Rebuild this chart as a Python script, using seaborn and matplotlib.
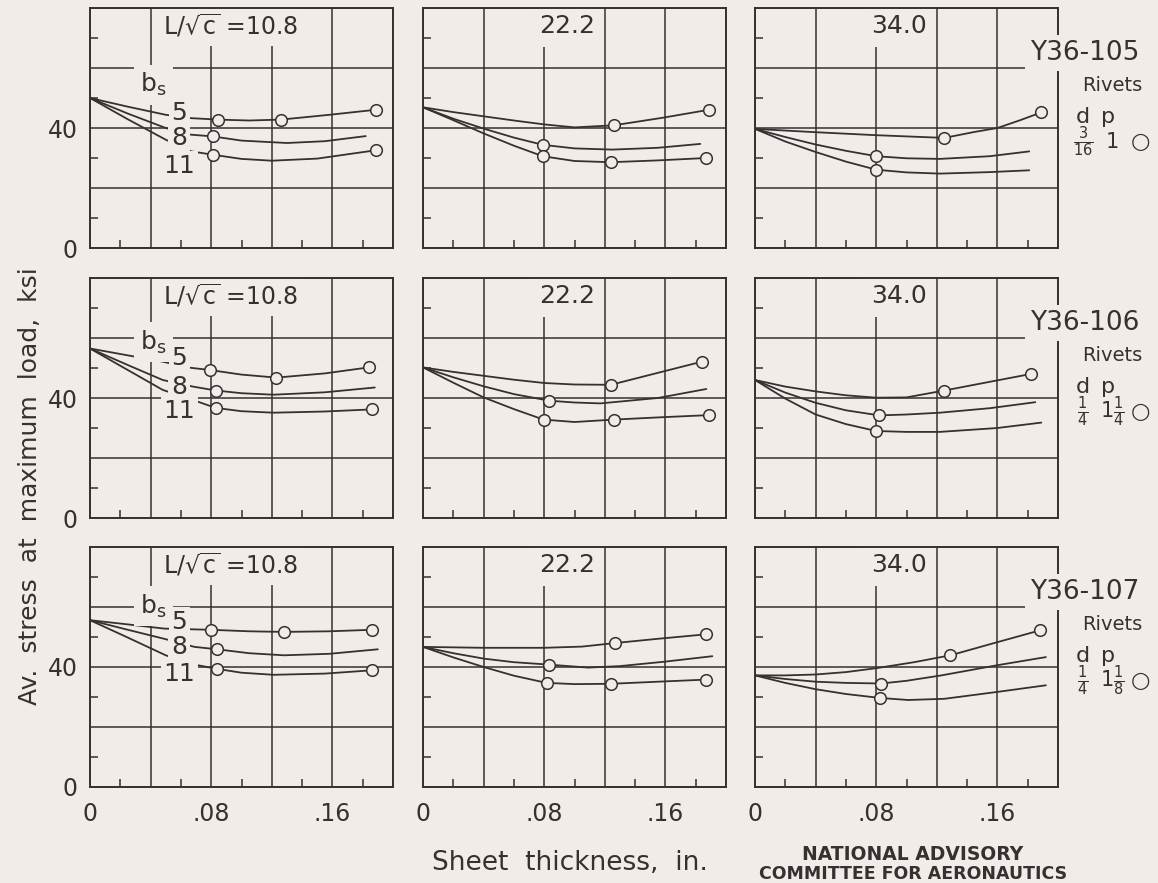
import matplotlib
matplotlib.use("Agg")
import matplotlib.pyplot as plt
import seaborn as sns

BG = "#f2ece9"
INK = "#353131"

# ---- data ----
bs_values = [5, 8, 11]
slenderness = ["10.8", "22.2", "34.0"]
specimens = ["Y36-105", "Y36-106", "Y36-107"]
rivet_d = [r"$\frac{3}{16}$", r"$\frac{1}{4}$", r"$\frac{1}{4}$"]
rivet_p = ["1", r"$1\frac{1}{4}$", r"$1\frac{1}{8}$"]
x_ticks = [0, 0.04, 0.08, 0.12, 0.16, 0.20]
x_tick_labels = ["0", "", ".08", "", ".16", ""]
y_ticks = [0, 20, 40, 60, 80]
y_tick_labels = ["0", "", "40", "", ""]

# faired curves {bs: (thickness, stress)}
fair_105_108 = {
    5: ([0, .025, .05, .066, .0845, .105, .126, .158, .189], [50, 47.1, 44.4, 43.3, 42.8, 42.5, 42.8, 44.4, 46.1]),
    8: ([0, .025, .05, .066, .081, .10, .13, .155, .182], [50, 44.8, 40, 37.8, 37.2, 35.8, 35, 35.6, 37.3]),
    11: ([0, .025, .05, .067, .081, .10, .12, .15, .189], [50, 42.9, 36.1, 32.2, 31.1, 29.7, 29.1, 29.8, 32.6]),
}
fair_105_222 = {
    5: ([0, .02, .04, .06, .08, .10, .126, .158, .189], [46.9, 45.3, 43.9, 42.5, 41.2, 40.2, 40.9, 43.4, 46.1]),
    8: ([0, .02, .04, .06, .079, .10, .125, .155, .183], [46.9, 43.1, 39.8, 36.8, 34.4, 33.2, 32.8, 33.4, 34.7]),
    11: ([0, .02, .04, .06, .079, .10, .124, .155, .187], [46.9, 42.6, 38.2, 34.1, 30.6, 29, 28.6, 29.2, 30]),
}
fair_105_340 = {
    5: ([0, .04, .08, .125, .145, .16, .175, .189], [39.7, 38.6, 37.6, 36.7, 38.7, 40, 42.6, 45.2]),
    8: ([0, .02, .04, .06, .08, .10, .122, .155, .181], [39.7, 37, 34.5, 32.4, 30.6, 29.9, 29.7, 30.6, 32.2]),
    11: ([0, .02, .04, .06, .08, .10, .122, .155, .181], [39.7, 35.5, 32, 28.8, 26.1, 25.2, 24.8, 25.3, 25.9]),
}
fair_106_108 = {
    5: ([0, .024, .048, .066, .0795, .10, .123, .155, .184], [56.5, 54.3, 52.1, 50.1, 49.3, 47.8, 46.8, 48.2, 50.2]),
    8: ([0, .024, .048, .068, .083, .10, .121, .155, .188], [56.5, 51.2, 46, 43.8, 42.5, 41.6, 41.1, 41.9, 43.5]),
    11: ([0, .024, .048, .067, .083, .10, .121, .155, .186], [56.5, 49.6, 42.7, 39.5, 36.7, 35.6, 35.1, 35.5, 36.2]),
}
fair_106_222 = {
    5: ([0, .02, .04, .06, .08, .10, .124, .152, .184], [50.2, 48.7, 47.4, 46.1, 45, 44.5, 44.4, 48, 52.1]),
    8: ([0, .02, .04, .06, .0833, .10, .117, .155, .187], [50.2, 46.9, 43.9, 41.3, 39.1, 38.5, 38.2, 40, 43]),
    11: ([0, .02, .04, .06, .0796, .10, .126, .158, .189], [50.2, 45.1, 40.2, 36.3, 32.8, 32, 32.8, 33.6, 34.3]),
}
fair_106_340 = {
    5: ([0, .02, .04, .06, .08, .10, .125, .155, .182], [46, 43.8, 42.2, 40.9, 40.1, 40.2, 42.5, 45.4, 48]),
    8: ([0, .02, .04, .06, .082, .10, .122, .155, .185], [46, 41.8, 38.4, 35.9, 34.2, 34.5, 35.1, 36.6, 38.6]),
    11: ([0, .02, .04, .06, .08, .10, .122, .16, .189], [46, 39.8, 34.5, 31.3, 29, 28.7, 28.7, 30, 31.8]),
}
fair_107_108 = {
    5: ([0, .025, .049, .08, .105, .128, .158, .186], [55.6, 54.2, 52.8, 52.4, 51.9, 51.7, 51.9, 52.4]),
    8: ([0, .025, .049, .069, .084, .105, .128, .158, .19], [55.6, 52.4, 49.4, 46.7, 45.9, 44.6, 43.9, 44.4, 45.9]),
    11: ([0, .025, .05, .066, .0835, .10, .121, .155, .186], [55.6, 49.8, 43.9, 41.1, 39.4, 38.1, 37.4, 37.8, 38.9]),
}
fair_107_222 = {
    5: ([0, .04, .08, .105, .127, .155, .187], [46.7, 46.4, 46.4, 46.8, 48, 49.4, 50.9]),
    8: ([0, .02, .04, .06, .083, .109, .13, .16, .191], [46.7, 44.6, 42.8, 41.6, 40.8, 39.8, 40.3, 41.8, 43.6]),
    11: ([0, .02, .04, .06, .0816, .10, .124, .155, .187], [46.7, 43.2, 40, 37.1, 34.7, 34.3, 34.4, 35.1, 35.8]),
}
fair_107_340 = {
    5: ([0, .02, .04, .06, .08, .105, .129, .158, .188], [37.2, 37.2, 37.5, 38.3, 39.6, 41.6, 43.9, 48, 52.2]),
    8: ([0, .02, .04, .06, .0833, .10, .123, .16, .192], [37.2, 36, 35.1, 34.7, 34.5, 35.4, 37.2, 40.6, 43.3]),
    11: ([0, .02, .04, .06, .0822, .101, .125, .16, .192], [37.2, 34.7, 32.6, 31, 29.7, 29, 29.4, 31.7, 33.9]),
}

# test points (circles)
tests_105_108 = {5: ([.0845, .126, .189], [42.8, 42.8, 46.1]), 8: ([.081], [37.2]), 11: ([.081, .189], [31.1, 32.6])}
tests_105_222 = {5: ([.126, .189], [40.9, 46.1]), 8: ([.079], [34.4]), 11: ([.079, .124, .187], [30.6, 28.6, 30])}
tests_105_340 = {5: ([.125, .189], [36.7, 45.2]), 8: ([.08], [30.6]), 11: ([.08], [26.1])}
tests_106_108 = {5: ([.0795, .123, .184], [49.3, 46.8, 50.2]), 8: ([.083], [42.5]), 11: ([.083, .186], [36.7, 36.2])}
tests_106_222 = {5: ([.124, .184], [44.4, 52.1]), 8: ([.0833], [39.1]), 11: ([.0796, .126, .189], [32.8, 32.8, 34.3])}
tests_106_340 = {5: ([.125, .182], [42.5, 48]), 8: ([.082], [34.2]), 11: ([.08], [29])}
tests_107_108 = {5: ([.08, .128, .186], [52.4, 51.7, 52.4]), 8: ([.084], [45.9]), 11: ([.0835, .186], [39.4, 38.9])}
tests_107_222 = {5: ([.127, .187], [48, 50.9]), 8: ([.083], [40.8]), 11: ([.0816, .124, .187], [34.7, 34.4, 35.8])}
tests_107_340 = {5: ([.129, .188], [43.9, 52.2]), 8: ([.0833], [34.5]), 11: ([.0822], [29.7])}

fair = [[fair_105_108, fair_105_222, fair_105_340],
        [fair_106_108, fair_106_222, fair_106_340],
        [fair_107_108, fair_107_222, fair_107_340]]
tests = [[tests_105_108, tests_105_222, tests_105_340],
         [tests_106_108, tests_106_222, tests_106_340],
         [tests_107_108, tests_107_222, tests_107_340]]

# label placement (layout only)
bs_label_y = [54.4, 58.7, 60.3]
num_label_y = [[45, 36.7, 27.2], [53.2, 43.8, 35.6], [55, 46.7, 37.8]]

sns.set_style("white")
plt.rcParams["font.family"] = ["DejaVu Sans"]
plt.rcParams["mathtext.fontset"] = "dejavusans"
plt.rcParams["text.color"] = INK

W, H = 1158, 883
fig = plt.figure(figsize=(W / 100, H / 100), dpi=100, facecolor=BG)
lefts = [90, 423, 755]
tops = [8, 278, 547]
pw, ph = 303, 240

box = dict(boxstyle="square,pad=0.25", fc=BG, ec="none")

for r in range(3):
    for c in range(3):
        ax = fig.add_axes([lefts[c] / W, 1 - (tops[r] + ph) / H, pw / W, ph / H])
        ax.set_facecolor(BG)
        ax.set_xlim(0, 0.2)
        ax.set_ylim(0, 80)
        ax.set_xticks(x_ticks)
        ax.set_xticks([.02, .06, .10, .14, .18], minor=True)
        ax.set_yticks(y_ticks)
        ax.set_yticks([10, 30, 50, 70], minor=True)
        ax.set_xticklabels(x_tick_labels if r == 2 else [""] * 6)
        ax.set_yticklabels(y_tick_labels if c == 0 else [""] * 5)
        ax.grid(True, which="major", color=INK, lw=1.1)
        ax.tick_params(which="both", bottom=True, left=True, top=False, right=False)
        ax.tick_params(which="major", length=0, labelsize=17, colors=INK)
        ax.tick_params(axis="y", which="major", pad=9)
        ax.tick_params(axis="x", which="major", pad=11)
        ax.tick_params(which="minor", direction="in", length=5.5, width=1.1, color=INK)
        for sp in ax.spines.values():
            sp.set_color(INK)
            sp.set_linewidth(1.4)

        for bs in bs_values:
            xs, ys = fair[r][c][bs]
            sns.lineplot(x=xs, y=ys, ax=ax, color=INK, lw=1.3, sort=False, estimator=None)
            tx, ty = tests[r][c][bs]
            sns.scatterplot(x=tx, y=ty, ax=ax, s=70, color=BG, edgecolor=INK,
                            linewidth=1.1, zorder=4, clip_on=False)
        ax.set_xlabel("")
        ax.set_ylabel("")

        if c == 0:
            ax.text(0.0925, 74, r"L/$\sqrt{\mathregular{c}}$ =" + slenderness[c], fontsize=17,
                    ha="center", va="center", zorder=2.2,
                    bbox=dict(boxstyle="square,pad=0.25", fc=BG, ec="none"))
            ax.text(0.042, bs_label_y[r], r"b$_\mathregular{s}$", fontsize=18,
                    ha="center", va="center", zorder=3, bbox=box)
            for k, bs in enumerate(bs_values):
                ax.text(0.059, num_label_y[r][k], str(bs), fontsize=18,
                        ha="center", va="center", zorder=3,
                        bbox=dict(boxstyle="square,pad=0.12", fc=BG, ec="none"))
        else:
            ax.text(0.095, 74, slenderness[c], fontsize=18, ha="center", va="center",
                    zorder=2.2, bbox=dict(boxstyle="square,pad=0.35", fc=BG, ec="none"))

        if c == 2:
            ax.text(0.1815, 65, specimens[r], fontsize=19, ha="left", va="center",
                    zorder=3, bbox=dict(boxstyle="square,pad=0.2", fc=BG, ec="none"))
            ax.text(0.2356, 54.3, "Rivets", fontsize=14, ha="center", va="center")
            ax.text(0.2165, 43.7, "d", fontsize=16, ha="center", va="center")
            ax.text(0.233, 43.7, "p", fontsize=16, ha="center", va="center")
            ax.text(0.2165, 35.3, rivet_d[r], fontsize=15, ha="center", va="center")
            ax.text(0.236, 35.3, rivet_p[r], fontsize=15, ha="center", va="center")
            ax.text(0.2545, 35.3, "\u25cb", fontsize=16, ha="center", va="center")

fig.text(30 / W, 0.45, "Av.  stress  at  maximum  load,  ksi", rotation=90,
         fontsize=18, ha="center", va="center")
fig.text(570 / W, 0.0147, "Sheet  thickness,  in.", fontsize=19, ha="center", va="baseline")
fig.text(913 / W, 0.026, "NATIONAL ADVISORY", fontsize=13.5, fontweight="bold",
         ha="center", va="baseline")
fig.text(913 / W, 0.0045, "COMMITTEE FOR AERONAUTICS", fontsize=12.5, fontweight="bold",
         ha="center", va="baseline")

fig.savefig("out.png", dpi=100, facecolor=BG)
